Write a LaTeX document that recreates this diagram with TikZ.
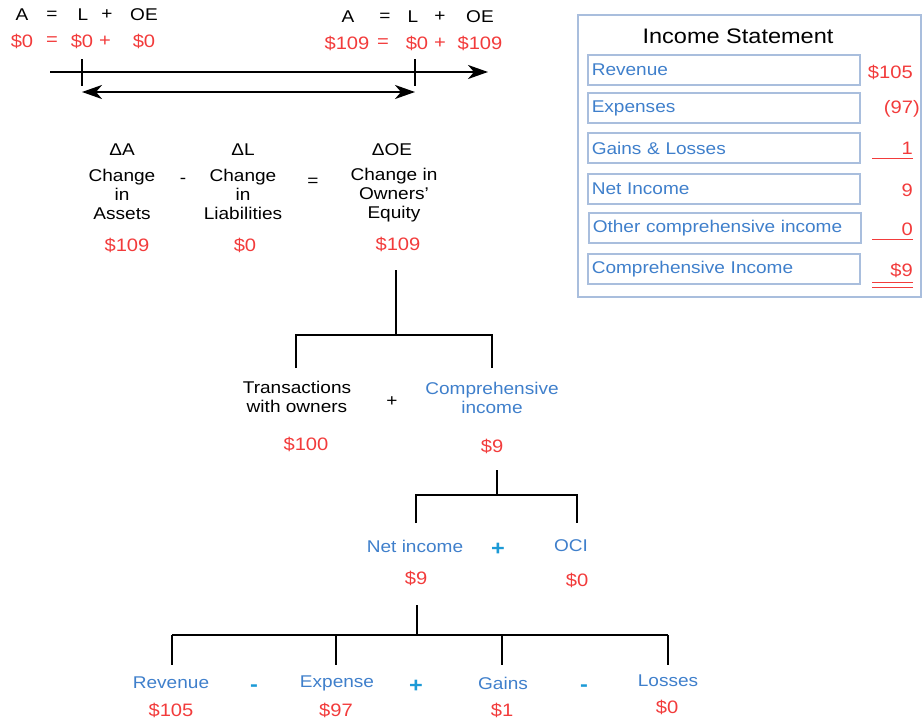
\documentclass[tikz,border=0pt]{standalone}
\usepackage{fontspec}
\setmainfont{Liberation Sans}[FakeStretch=1.12]
\usepackage{xcolor}
\usetikzlibrary{arrows.meta,positioning,calc}
\definecolor{valred}{HTML}{F23B3B}
\definecolor{lblblue}{HTML}{3F7FCB}
\definecolor{sgnblue}{HTML}{1C9AD6}
\definecolor{boxedge}{HTML}{A9BEDD}
\tikzset{
  txt/.style = {font=\fontsize{17}{19}\selectfont, align=center, inner sep=0pt},
  val/.style = {txt, text=valred, font=\fontsize{18}{20}\selectfont},
  lbl/.style = {txt, text=lblblue},
  sgn/.style = {txt, text=sgnblue, font=\fontsize{21}{23}\selectfont\bfseries},
  isrow/.style = {draw=boxedge, line width=1.5pt, anchor=west, text=lblblue, font=\fontsize{17}{19}\selectfont,
                  inner xsep=4pt, text width=264pt, align=left, minimum height=30pt},
  branch/.style = {line width=2.5pt},
  timeline/.style = {line width=2pt},
  bigtip/.tip = {Stealth[length=20pt, width=14pt, inset=6pt]},
  rule/.style = {valred, line width=1.5pt}
}

\begin{document}
\begin{tikzpicture}[x=1pt, y=-1pt]
\useasboundingbox (0,0) rectangle (922,723);

% accounting equation, before and after
\foreach \x/\t [count=\i] in {22/A, 52/=, 83/L, 107/+, 144/OE}
  \node[txt] (eqa\i) at (\x,15) {\t};
\foreach \x/\t [count=\i] in {22/\$0, 52/=, 82/\$0, 105/+, 144/\$0}
  \node[val] (eqav\i) at (\x,41) {\t};
\foreach \x/\t [count=\i] in {348/A, 385/=, 413/L, 440/+, 480/OE}
  \node[txt] (eqb\i) at (\x,17) {\t};
\foreach \x/\t [count=\i] in {347/\$109, 383/=, 417/\$0, 440/+, 480/\$109}
  \node[val] (eqbv\i) at (\x,43) {\t};

% time line
\coordinate (tstart) at (50,72);
\coordinate (tend) at (488,72);
\coordinate (tick1top) at (82,59);
\coordinate (tick1bot) at (82,86);
\coordinate (tick2top) at (415,59);
\coordinate (tick2bot) at (415,86);
\coordinate (spanl) at (82,92);
\coordinate (spanr) at (415,92);
\draw[timeline, -bigtip] (tstart) -- (tend);
\draw[timeline] (tick1top) -- (tick1bot);
\draw[timeline] (tick2top) -- (tick2bot);
\draw[timeline, bigtip-bigtip] (spanl) -- (spanr);

% changes
\node[txt] (dA) at (122,150) {ΔA};
\node[txt] (dL) at (243,150) {ΔL};
\node[txt] (dOE) at (392,150) {ΔOE};
\node[txt] (chA) at (122,194) {Change\\in\\Assets};
\node[txt] (chL) at (243,194) {Change\\in\\Liabilities};
\node[txt] (chOE) at (394,195) {Change in\\Owners'\\Equity};
\node[txt] (minus1) at (183,181) {-};
\node[txt] (eq1) at (313,182) {=};
\node[val] (vA) at (127,245) {\$109};
\node[val] (vL) at (245,245) {\$0};
\node[val] (vOE) at (398,244) {\$109};

% owners' equity split
\coordinate (t1top) at (396,270);
\coordinate (t1mid) at (396,335);
\coordinate (t1l) at (296,335);
\coordinate (t1r) at (492,335);
\coordinate (t1lend) at (296,368);
\coordinate (t1rend) at (492,368);
\draw[branch] (t1top) -- (t1mid);
\draw[branch] (t1lend) -- (t1l) -- (t1r) -- (t1rend);

\node[txt] (trans) at (297,397) {Transactions\\with owners};
\node[txt] (plus1) at (392,402) {+};
\node[lbl] (compinc) at (492,398) {Comprehensive\\income};
\node[val] (vtrans) at (306,444) {\$100};
\node[val] (vcomp) at (492,446) {\$9};

% comprehensive income split
\coordinate (t2top) at (497,470);
\coordinate (t2mid) at (497,495);
\coordinate (t2l) at (416,495);
\coordinate (t2r) at (577,495);
\coordinate (t2lend) at (416,523);
\coordinate (t2rend) at (577,523);
\draw[branch] (t2top) -- (t2mid);
\draw[branch] (t2lend) -- (t2l) -- (t2r) -- (t2rend);

\node[lbl] (netinc) at (415,546) {Net income};
\node[sgn] (plus2) at (498,549) {+};
\node[lbl] (oci) at (571,546) {OCI};
\node[val] (vnet) at (416,578) {\$9};
\node[val] (voci) at (577,580) {\$0};

% net income split
\coordinate (t3top) at (417,605);
\coordinate (t3mid) at (417,635);
\foreach \x [count=\i] in {172,336,502,668} {
  \coordinate (t3c\i) at (\x,635);
  \coordinate (t3e\i) at (\x,665);
  \draw[branch] (t3c\i) -- (t3e\i);
}
\draw[branch] (t3top) -- (t3mid);
\draw[branch] (t3c1) -- (t3c4);

\node[lbl] (rev) at (171,683) {Revenue};
\node[sgn] (minus2) at (254,688) {-};
\node[lbl] (exp) at (337,683) {Expense};
\node[sgn] (plus3) at (416,686) {+};
\node[lbl] (gains) at (503,683) {Gains};
\node[sgn] (minus3) at (584,688) {-};
\node[lbl] (losses) at (668,681) {Losses};
\node[val] (vrev) at (171,710) {\$105};
\node[val] (vexp) at (336,710) {\$97};
\node[val] (vgain) at (502,710) {\$1};
\node[val] (vloss) at (667,707) {\$0};

% income statement
\draw[draw=boxedge, line width=1.5pt] (578,15) rectangle (921,297);
\node[txt, font=\fontsize{21}{24}\selectfont] (istitle) at (738,36) {Income Statement};
\node[isrow] (isrev) at (587,70) {Revenue};
\node[isrow] (isexp) at (587,108) {Expenses};
\node[isrow] (isgl) at (587,148) {Gains \& Losses};
\node[isrow] (isni) at (587,189) {Net Income};
\node[isrow] (isoci) at (588,228) {Other comprehensive income};
\node[isrow] (isci) at (587,269) {Comprehensive Income};
\node[val, anchor=east] (isrevv) at (913,72) {\$105};
\node[val, anchor=east] (isexpv) at (920,109) {(97)};
\node[val, anchor=east] (isglv) at (913,148) {1};
\node[val, anchor=east] (isniv) at (913,190) {9};
\node[val, anchor=east] (isociv) at (913,229) {0};
\node[val, anchor=east] (isciv) at (913,270) {\$9};
\draw[rule] (isglv.south east) ++(0,4) -- ++(-41,0);
\draw[rule] (isociv.south east) ++(0,4) -- ++(-41,0);
\draw[rule] (isciv.south east) ++(0,5) -- ++(-41,0);
\draw[rule] (isciv.south east) ++(0,10) -- ++(-41,0);
\end{tikzpicture}
\end{document}
